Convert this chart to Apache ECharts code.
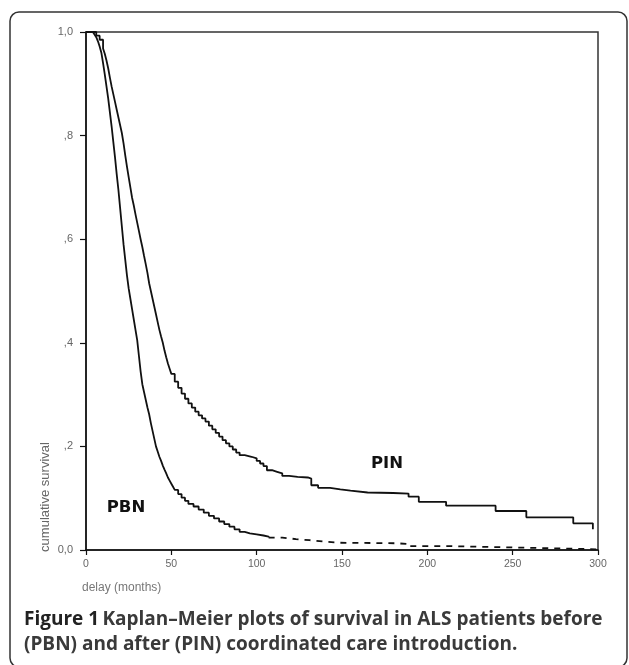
<!DOCTYPE html>
<html>
<head>
<meta charset="utf-8">
<script src="https://cdn.jsdelivr.net/npm/echarts@6/dist/echarts.min.js"></script>
<style>
  html, body { margin: 0; padding: 0; background: #fff; }
  #chart { width: 629px; height: 665px; }
</style>
</head>
<body>
<div id="chart"></div>
<script>
// ---- data (months, cumulative survival) ----
const xTicks = [0, 50, 100, 150, 200, 250, 300];
const yTickLabels = ['0,0', ',2', ',4', ',6', ',8', '1,0'];

const pbnMonths = [0,4,5,6,7,8,9,10,11,12,13,14,15,16,17,18,19,20,21,22,23,24,25,26,27,28,29,30,31,32,33,34,35,36,37,38,39,40,41,42,43,44,45,46,47,48,49,50,51,52,54,56,58,60,63,66,69,72,75,78,81,84,87,90,93,96,100,104,107];
const pbnSurv   = [1,1,0.995,0.99,0.982,0.972,0.96,0.94,0.918,0.895,0.872,0.845,0.818,0.788,0.758,0.725,0.695,0.66,0.625,0.59,0.56,0.53,0.505,0.485,0.465,0.445,0.425,0.405,0.375,0.345,0.32,0.305,0.29,0.275,0.262,0.245,0.23,0.215,0.2,0.19,0.18,0.172,0.163,0.155,0.148,0.14,0.134,0.128,0.122,0.116,0.108,0.101,0.095,0.089,0.084,0.078,0.072,0.066,0.061,0.055,0.05,0.045,0.04,0.035,0.032,0.03,0.028,0.026,0.024];

const pbnTailMonths = [107,115,123,131,140,149,182,190,212,257,300];
const pbnTailSurv   = [0.024,0.021,0.019,0.016,0.014,0.013,0.0115,0.0075,0.0045,0.0013,0.0013];

const pinMonths = [0,4,6,8,10,11,12,13,14,15,16,17,18,19,20,21,22,23,24,25,26,27,28,29,30,31,32,33,34,35,36,37,38,39,40,41,42,43,44,45,46,47,48,49,50,52,54,56,58,60,62,64,66,68,70,72,74,76,78,80,82,84,86,88,90,93,97,100,102,104,106,109,112,115,119,124,130,132,136,143,149,155,165,180,189,195,211,240,258,285.5,297];
const pinSurv   = [1,1,0.993,0.985,0.968,0.958,0.945,0.93,0.912,0.895,0.88,0.865,0.85,0.835,0.82,0.805,0.785,0.762,0.74,0.72,0.70,0.68,0.665,0.648,0.632,0.616,0.60,0.585,0.568,0.552,0.535,0.515,0.50,0.485,0.47,0.455,0.44,0.425,0.412,0.40,0.385,0.372,0.36,0.35,0.34,0.325,0.313,0.302,0.292,0.283,0.275,0.267,0.26,0.254,0.248,0.24,0.233,0.226,0.219,0.212,0.206,0.2,0.194,0.188,0.183,0.18,0.177,0.172,0.167,0.162,0.154,0.151,0.148,0.143,0.141,0.14,0.138,0.125,0.12,0.117,0.1145,0.111,0.11,0.109,0.103,0.093,0.0855,0.0753,0.063,0.0515,0.04];

const zip = (a, b) => a.map((v, i) => [v, b[i]]);

const chart = echarts.init(document.getElementById('chart'), null, { renderer: 'canvas' });

const lineBase = {
  type: 'line', step: 'end', symbol: 'none', silent: true, animation: false,
  lineStyle: { color: '#111', width: 1.8 }
};

chart.setOption({
  backgroundColor: '#fff',
  animation: false,
  grid: { left: 86, top: 32, width: 512, height: 518, show: true, borderColor: '#333', borderWidth: 1.5, backgroundColor: 'transparent' },
  xAxis: {
    type: 'value', min: 0, max: 300, interval: 50,
    axisLine: { show: true, lineStyle: { color: '#111', width: 1.5 } },
    axisTick: { show: true, length: 5, lineStyle: { color: '#111', width: 1.2 } },
    axisLabel: { color: '#666', fontSize: 10.5, fontFamily: 'Liberation Sans', margin: 9,
      formatter: v => xTicks.includes(v) ? String(v) : '' },
    splitLine: { show: false }
  },
  yAxis: {
    type: 'value', min: 0, max: 1, interval: 0.2,
    axisLine: { show: true, lineStyle: { color: '#111', width: 1.5 } },
    axisTick: { show: true, length: 6, lineStyle: { color: '#111', width: 1.2 } },
    axisLabel: { color: '#666', fontSize: 11, fontFamily: 'Liberation Sans', margin: 13,
      formatter: v => yTickLabels[Math.round(v * 5)] },
    splitLine: { show: false }
  },
  series: [
    Object.assign({}, lineBase, { name: 'PBN', data: zip(pbnMonths, pbnSurv) }),
    Object.assign({}, lineBase, { name: 'PBN censored', data: zip(pbnTailMonths, pbnTailSurv),
      lineStyle: { color: '#111', width: 1.8, type: [6, 6] } }),
    Object.assign({}, lineBase, { name: 'PIN', data: zip(pinMonths, pinSurv) })
  ],
  graphic: [
    { type: 'rect', silent: true, shape: { x: 10, y: 12, width: 617, height: 655, r: 9 },
      style: { fill: 'none', stroke: '#333', lineWidth: 1.5 } },
    { type: 'text', silent: true, x: 387, y: 464,
      style: { text: 'PIN', fontFamily: 'DejaVu Sans', fontWeight: 'bold', fontSize: 16.5, fill: '#111', align: 'center', verticalAlign: 'middle' } },
    { type: 'text', silent: true, x: 126, y: 508,
      style: { text: 'PBN', fontFamily: 'DejaVu Sans', fontWeight: 'bold', fontSize: 16.5, fill: '#111', align: 'center', verticalAlign: 'middle' } },
    { type: 'text', silent: true, x: 45, y: 497, rotation: Math.PI / 2,
      style: { text: 'cumulative survival', fontFamily: 'Liberation Sans', fontSize: 13, fill: '#666', align: 'center', verticalAlign: 'middle' } },
    { type: 'text', silent: true, x: 82, y: 588,
      style: { text: 'delay (months)', fontFamily: 'Liberation Sans', fontSize: 12, fill: '#777', align: 'left', verticalAlign: 'middle' } },
    { type: 'text', silent: true, x: 24, y: 620,
      style: { text: '{b|Figure 1} {r|Kaplan–Meier plots of survival in ALS patients before}', verticalAlign: 'middle',
        rich: { b: { fontFamily: 'Open Sans', fontWeight: 'bold', fontSize: 19, fill: '#222' },
                r: { fontFamily: 'Open Sans', fontWeight: 'bold', fontSize: 19, fill: '#3a3a3a' } } } },
    { type: 'text', silent: true, x: 24, y: 645,
      style: { text: '(PBN) and after (PIN) coordinated care introduction.', verticalAlign: 'middle',
        fontFamily: 'Open Sans', fontWeight: 'bold', fontSize: 19, fill: '#3a3a3a' } }
  ]
});
</script>
</body>
</html>
